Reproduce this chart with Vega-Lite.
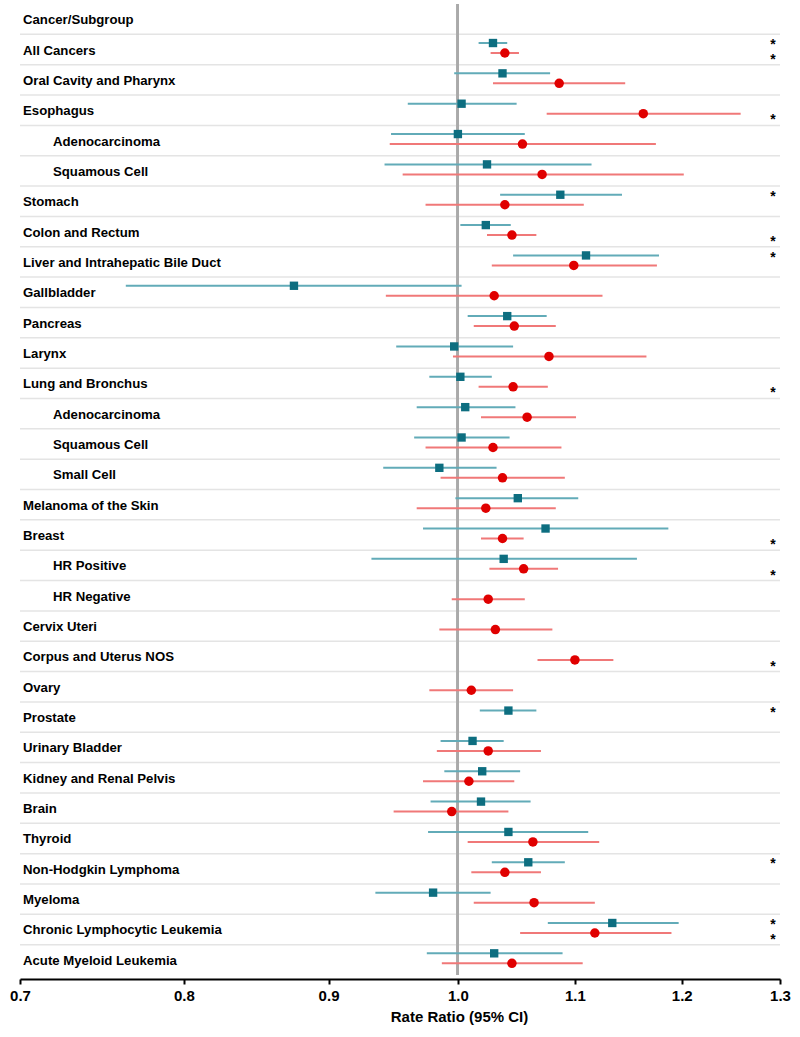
{
  "$schema": "https://vega.github.io/schema/vega-lite/v6.json",
  "width": 760,
  "height": 971,
  "autosize": {"type": "none"},
  "padding": {"left": 20, "top": 4, "right": 20, "bottom": 62},
  "background": "white",
  "config": {
    "font": "Liberation Sans",
    "view": {"stroke": null},
    "axis": {
      "domainColor": "#000000",
      "domainWidth": 2,
      "tickColor": "#000000",
      "tickWidth": 2,
      "tickSize": 5,
      "labelFontSize": 15,
      "labelFontWeight": "bold",
      "labelColor": "#000000",
      "labelFlush": false,
      "labelOverlap": false,
      "labelPadding": 4,
      "titleFontSize": 15,
      "titleFontWeight": "bold",
      "titleColor": "#000000",
      "titlePadding": 6,
      "grid": false,
      "offset": 4
    }
  },
  "datasets": {
    "rows": [
      {"id": "Cancer/Subgroup", "label": "Cancer/Subgroup", "level": "header"},
      {"id": "All Cancers", "label": "All Cancers", "level": "main"},
      {"id": "Oral Cavity and Pharynx", "label": "Oral Cavity and Pharynx", "level": "main"},
      {"id": "Esophagus", "label": "Esophagus", "level": "main"},
      {"id": "Esophagus Adenocarcinoma", "label": "Adenocarcinoma", "level": "sub"},
      {"id": "Esophagus Squamous Cell", "label": "Squamous Cell", "level": "sub"},
      {"id": "Stomach", "label": "Stomach", "level": "main"},
      {"id": "Colon and Rectum", "label": "Colon and Rectum", "level": "main"},
      {"id": "Liver and Intrahepatic Bile Duct", "label": "Liver and Intrahepatic Bile Duct", "level": "main"},
      {"id": "Gallbladder", "label": "Gallbladder", "level": "main"},
      {"id": "Pancreas", "label": "Pancreas", "level": "main"},
      {"id": "Larynx", "label": "Larynx", "level": "main"},
      {"id": "Lung and Bronchus", "label": "Lung and Bronchus", "level": "main"},
      {"id": "Lung Adenocarcinoma", "label": "Adenocarcinoma", "level": "sub"},
      {"id": "Lung Squamous Cell", "label": "Squamous Cell", "level": "sub"},
      {"id": "Lung Small Cell", "label": "Small Cell", "level": "sub"},
      {"id": "Melanoma of the Skin", "label": "Melanoma of the Skin", "level": "main"},
      {"id": "Breast", "label": "Breast", "level": "main"},
      {"id": "Breast HR Positive", "label": "HR Positive", "level": "sub"},
      {"id": "Breast HR Negative", "label": "HR Negative", "level": "sub"},
      {"id": "Cervix Uteri", "label": "Cervix Uteri", "level": "main"},
      {"id": "Corpus and Uterus NOS", "label": "Corpus and Uterus NOS", "level": "main"},
      {"id": "Ovary", "label": "Ovary", "level": "main"},
      {"id": "Prostate", "label": "Prostate", "level": "main"},
      {"id": "Urinary Bladder", "label": "Urinary Bladder", "level": "main"},
      {"id": "Kidney and Renal Pelvis", "label": "Kidney and Renal Pelvis", "level": "main"},
      {"id": "Brain", "label": "Brain", "level": "main"},
      {"id": "Thyroid", "label": "Thyroid", "level": "main"},
      {"id": "Non-Hodgkin Lymphoma", "label": "Non-Hodgkin Lymphoma", "level": "main"},
      {"id": "Myeloma", "label": "Myeloma", "level": "main"},
      {"id": "Chronic Lymphocytic Leukemia", "label": "Chronic Lymphocytic Leukemia", "level": "main"},
      {"id": "Acute Myeloid Leukemia", "label": "Acute Myeloid Leukemia", "level": "main"}
    ],
    "est": [
      {"id": "All Cancers", "sex": "Male", "rr": 1.029, "lo": 1.017, "hi": 1.041, "sig": true},
      {"id": "All Cancers", "sex": "Female", "rr": 1.039, "lo": 1.027, "hi": 1.051, "sig": true},
      {"id": "Oral Cavity and Pharynx", "sex": "Male", "rr": 1.037, "lo": 0.997, "hi": 1.078, "sig": false},
      {"id": "Oral Cavity and Pharynx", "sex": "Female", "rr": 1.086, "lo": 1.029, "hi": 1.146, "sig": false},
      {"id": "Esophagus", "sex": "Male", "rr": 1.003, "lo": 0.960, "hi": 1.049, "sig": false},
      {"id": "Esophagus", "sex": "Female", "rr": 1.163, "lo": 1.075, "hi": 1.259, "sig": true},
      {"id": "Esophagus Adenocarcinoma", "sex": "Male", "rr": 1.000, "lo": 0.947, "hi": 1.056, "sig": false},
      {"id": "Esophagus Adenocarcinoma", "sex": "Female", "rr": 1.054, "lo": 0.946, "hi": 1.175, "sig": false},
      {"id": "Esophagus Squamous Cell", "sex": "Male", "rr": 1.024, "lo": 0.942, "hi": 1.115, "sig": false},
      {"id": "Esophagus Squamous Cell", "sex": "Female", "rr": 1.071, "lo": 0.956, "hi": 1.202, "sig": false},
      {"id": "Stomach", "sex": "Male", "rr": 1.087, "lo": 1.035, "hi": 1.143, "sig": true},
      {"id": "Stomach", "sex": "Female", "rr": 1.039, "lo": 0.974, "hi": 1.108, "sig": false},
      {"id": "Colon and Rectum", "sex": "Male", "rr": 1.023, "lo": 1.002, "hi": 1.044, "sig": false},
      {"id": "Colon and Rectum", "sex": "Female", "rr": 1.045, "lo": 1.024, "hi": 1.066, "sig": true},
      {"id": "Liver and Intrahepatic Bile Duct", "sex": "Male", "rr": 1.110, "lo": 1.046, "hi": 1.178, "sig": true},
      {"id": "Liver and Intrahepatic Bile Duct", "sex": "Female", "rr": 1.099, "lo": 1.028, "hi": 1.176, "sig": false},
      {"id": "Gallbladder", "sex": "Male", "rr": 0.875, "lo": 0.763, "hi": 1.003, "sig": false},
      {"id": "Gallbladder", "sex": "Female", "rr": 1.030, "lo": 0.943, "hi": 1.125, "sig": false},
      {"id": "Pancreas", "sex": "Male", "rr": 1.041, "lo": 1.008, "hi": 1.075, "sig": false},
      {"id": "Pancreas", "sex": "Female", "rr": 1.047, "lo": 1.013, "hi": 1.083, "sig": false},
      {"id": "Larynx", "sex": "Male", "rr": 0.997, "lo": 0.951, "hi": 1.046, "sig": false},
      {"id": "Larynx", "sex": "Female", "rr": 1.077, "lo": 0.996, "hi": 1.166, "sig": false},
      {"id": "Lung and Bronchus", "sex": "Male", "rr": 1.002, "lo": 0.977, "hi": 1.028, "sig": false},
      {"id": "Lung and Bronchus", "sex": "Female", "rr": 1.046, "lo": 1.017, "hi": 1.076, "sig": true},
      {"id": "Lung Adenocarcinoma", "sex": "Male", "rr": 1.006, "lo": 0.967, "hi": 1.048, "sig": false},
      {"id": "Lung Adenocarcinoma", "sex": "Female", "rr": 1.058, "lo": 1.019, "hi": 1.101, "sig": false},
      {"id": "Lung Squamous Cell", "sex": "Male", "rr": 1.003, "lo": 0.965, "hi": 1.043, "sig": false},
      {"id": "Lung Squamous Cell", "sex": "Female", "rr": 1.029, "lo": 0.974, "hi": 1.088, "sig": false},
      {"id": "Lung Small Cell", "sex": "Male", "rr": 0.985, "lo": 0.941, "hi": 1.032, "sig": false},
      {"id": "Lung Small Cell", "sex": "Female", "rr": 1.037, "lo": 0.986, "hi": 1.091, "sig": false},
      {"id": "Melanoma of the Skin", "sex": "Male", "rr": 1.050, "lo": 0.998, "hi": 1.103, "sig": false},
      {"id": "Melanoma of the Skin", "sex": "Female", "rr": 1.023, "lo": 0.967, "hi": 1.083, "sig": false},
      {"id": "Breast", "sex": "Male", "rr": 1.074, "lo": 0.972, "hi": 1.187, "sig": false},
      {"id": "Breast", "sex": "Female", "rr": 1.037, "lo": 1.019, "hi": 1.055, "sig": true},
      {"id": "Breast HR Positive", "sex": "Male", "rr": 1.038, "lo": 0.932, "hi": 1.157, "sig": false},
      {"id": "Breast HR Positive", "sex": "Female", "rr": 1.055, "lo": 1.026, "hi": 1.085, "sig": true},
      {"id": "Breast HR Negative", "sex": "Female", "rr": 1.025, "lo": 0.995, "hi": 1.056, "sig": false},
      {"id": "Cervix Uteri", "sex": "Female", "rr": 1.031, "lo": 0.985, "hi": 1.080, "sig": false},
      {"id": "Corpus and Uterus NOS", "sex": "Female", "rr": 1.100, "lo": 1.067, "hi": 1.135, "sig": true},
      {"id": "Ovary", "sex": "Female", "rr": 1.011, "lo": 0.977, "hi": 1.046, "sig": false},
      {"id": "Prostate", "sex": "Male", "rr": 1.042, "lo": 1.018, "hi": 1.066, "sig": true},
      {"id": "Urinary Bladder", "sex": "Male", "rr": 1.012, "lo": 0.986, "hi": 1.038, "sig": false},
      {"id": "Urinary Bladder", "sex": "Female", "rr": 1.025, "lo": 0.983, "hi": 1.070, "sig": false},
      {"id": "Kidney and Renal Pelvis", "sex": "Male", "rr": 1.020, "lo": 0.989, "hi": 1.052, "sig": false},
      {"id": "Kidney and Renal Pelvis", "sex": "Female", "rr": 1.009, "lo": 0.972, "hi": 1.047, "sig": false},
      {"id": "Brain", "sex": "Male", "rr": 1.019, "lo": 0.978, "hi": 1.061, "sig": false},
      {"id": "Brain", "sex": "Female", "rr": 0.995, "lo": 0.949, "hi": 1.042, "sig": false},
      {"id": "Thyroid", "sex": "Male", "rr": 1.042, "lo": 0.976, "hi": 1.112, "sig": false},
      {"id": "Thyroid", "sex": "Female", "rr": 1.063, "lo": 1.008, "hi": 1.122, "sig": false},
      {"id": "Non-Hodgkin Lymphoma", "sex": "Male", "rr": 1.059, "lo": 1.028, "hi": 1.091, "sig": true},
      {"id": "Non-Hodgkin Lymphoma", "sex": "Female", "rr": 1.039, "lo": 1.011, "hi": 1.070, "sig": false},
      {"id": "Myeloma", "sex": "Male", "rr": 0.980, "lo": 0.935, "hi": 1.027, "sig": false},
      {"id": "Myeloma", "sex": "Female", "rr": 1.064, "lo": 1.013, "hi": 1.118, "sig": false},
      {"id": "Chronic Lymphocytic Leukemia", "sex": "Male", "rr": 1.134, "lo": 1.076, "hi": 1.197, "sig": true},
      {"id": "Chronic Lymphocytic Leukemia", "sex": "Female", "rr": 1.118, "lo": 1.052, "hi": 1.190, "sig": true},
      {"id": "Acute Myeloid Leukemia", "sex": "Male", "rr": 1.030, "lo": 0.975, "hi": 1.089, "sig": false},
      {"id": "Acute Myeloid Leukemia", "sex": "Female", "rr": 1.045, "lo": 0.987, "hi": 1.107, "sig": false}
    ]
  },
  "layer": [
    {
      "data": {"name": "rows"},
      "transform": [{"filter": "datum.level !== 'header'"}],
      "mark": {"type": "rule", "color": "#e4e4e4", "strokeWidth": 1.5},
      "encoding": {
        "y": {"field": "id", "type": "nominal", "bandPosition": 0, "sort": null,
              "scale": {"domain": ["Cancer/Subgroup","All Cancers","Oral Cavity and Pharynx","Esophagus","Esophagus Adenocarcinoma","Esophagus Squamous Cell","Stomach","Colon and Rectum","Liver and Intrahepatic Bile Duct","Gallbladder","Pancreas","Larynx","Lung and Bronchus","Lung Adenocarcinoma","Lung Squamous Cell","Lung Small Cell","Melanoma of the Skin","Breast","Breast HR Positive","Breast HR Negative","Cervix Uteri","Corpus and Uterus NOS","Ovary","Prostate","Urinary Bladder","Kidney and Renal Pelvis","Brain","Thyroid","Non-Hodgkin Lymphoma","Myeloma","Chronic Lymphocytic Leukemia","Acute Myeloid Leukemia"], "paddingInner": 0, "paddingOuter": 0},
              "axis": null}
      }
    },
    {
      "data": {"name": "rows"},
      "transform": [{"filter": "datum.level !== 'sub'"}],
      "mark": {"type": "text", "align": "left", "baseline": "middle", "dx": 3, "dy": 1, "fontSize": 13.2, "fontWeight": "bold", "color": "#000000"},
      "encoding": {
        "x": {"datum": 0.7, "type": "quantitative", "scale": {"type": "log", "domain": [0.7, 1.3], "nice": false}, "title": "Rate Ratio (95% CI)"},
        "y": {"field": "id", "type": "nominal", "sort": null, "axis": null},
        "text": {"field": "label"}
      }
    },
    {
      "data": {"name": "rows"},
      "transform": [{"filter": "datum.level === 'sub'"}],
      "mark": {"type": "text", "align": "left", "baseline": "middle", "dx": 33, "dy": 1, "fontSize": 13.2, "fontWeight": "bold", "color": "#000000"},
      "encoding": {
        "x": {"datum": 0.7, "type": "quantitative", "title": "Rate Ratio (95% CI)"},
        "y": {"field": "id", "type": "nominal", "sort": null, "axis": null},
        "text": {"field": "label"}
      }
    },
    {
      "data": {"name": "rows"},
      "mark": {"type": "rule", "color": "#aaaaaa", "strokeWidth": 2},
      "encoding": {
        "x": {"datum": 1, "type": "quantitative", "title": "Rate Ratio (95% CI)"}
      }
    },
    {
      "data": {"name": "est"},
      "transform": [{"filter": "datum.sex === 'Male'"}],
      "mark": {"type": "rule", "color": "#62abb8", "strokeWidth": 2, "yOffset": -6.5},
      "encoding": {
        "x": {"field": "lo", "type": "quantitative", "title": "Rate Ratio (95% CI)"},
        "x2": {"field": "hi"},
        "y": {"field": "id", "type": "nominal", "sort": null, "axis": null}
      }
    },
    {
      "data": {"name": "est"},
      "transform": [{"filter": "datum.sex === 'Female'"}],
      "mark": {"type": "rule", "color": "#f07878", "strokeWidth": 2, "yOffset": 3.5},
      "encoding": {
        "x": {"field": "lo", "type": "quantitative", "title": "Rate Ratio (95% CI)"},
        "x2": {"field": "hi"},
        "y": {"field": "id", "type": "nominal", "sort": null, "axis": null}
      }
    },
    {
      "data": {"name": "est"},
      "transform": [{"filter": "datum.sex === 'Male'"}],
      "mark": {"type": "point", "shape": "square", "filled": true, "size": 70, "color": "#0d6e80", "opacity": 1, "yOffset": -6.5},
      "encoding": {
        "x": {"field": "rr", "type": "quantitative", "title": "Rate Ratio (95% CI)",
              "axis": {"values": [0.7, 0.8, 0.9, 1.0, 1.1, 1.2, 1.3], "format": ".1f", "titleX": 439}},
        "y": {"field": "id", "type": "nominal", "sort": null, "axis": null}
      }
    },
    {
      "data": {"name": "est"},
      "transform": [{"filter": "datum.sex === 'Female'"}],
      "mark": {"type": "point", "shape": "circle", "filled": true, "size": 90, "color": "#e00000", "opacity": 1, "yOffset": 3.5},
      "encoding": {
        "x": {"field": "rr", "type": "quantitative", "title": "Rate Ratio (95% CI)"},
        "y": {"field": "id", "type": "nominal", "sort": null, "axis": null}
      }
    },
    {
      "data": {"name": "est"},
      "transform": [{"filter": "datum.sig && datum.sex === 'Male'"}],
      "mark": {"type": "text", "text": "*", "fontSize": 14, "fontWeight": "bold", "color": "#000000", "baseline": "alphabetic", "align": "center", "dx": -7, "yOffset": -0.3},
      "encoding": {
        "x": {"datum": 1.3, "type": "quantitative", "title": "Rate Ratio (95% CI)"},
        "y": {"field": "id", "type": "nominal", "sort": null, "axis": null}
      }
    },
    {
      "data": {"name": "est"},
      "transform": [{"filter": "datum.sig && datum.sex === 'Female'"}],
      "mark": {"type": "text", "text": "*", "fontSize": 14, "fontWeight": "bold", "color": "#000000", "baseline": "alphabetic", "align": "center", "dx": -7, "yOffset": 14.2},
      "encoding": {
        "x": {"datum": 1.3, "type": "quantitative", "title": "Rate Ratio (95% CI)"},
        "y": {"field": "id", "type": "nominal", "sort": null, "axis": null}
      }
    }
  ]
}
